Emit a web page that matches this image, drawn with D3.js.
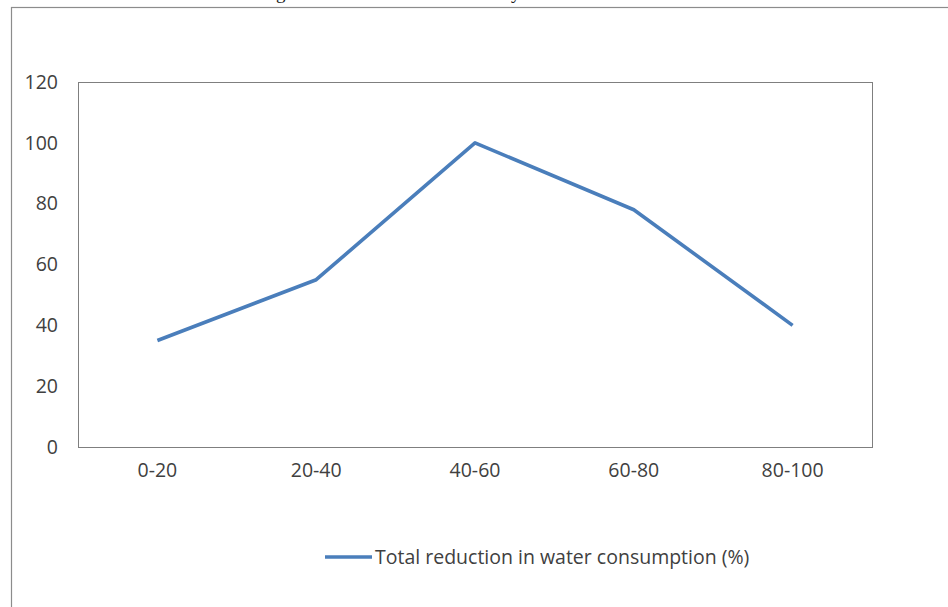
<!DOCTYPE html>
<html>
<head>
<meta charset="utf-8">
<script src="https://cdn.jsdelivr.net/npm/d3@7"></script>
<style>
  html, body { margin: 0; padding: 0; background: #ffffff; }
  svg { display: block; }
  text { font-family: "Open Sans", "Noto Sans", sans-serif; fill: #404040; }
</style>
</head>
<body>
<svg id="chart" width="948" height="607"></svg>
<script>
const categories = ["0-20", "20-40", "40-60", "60-80", "80-100"];
const values = [35, 55, 100, 78, 40];
const yTicks = [0, 20, 40, 60, 80, 100, 120];
const seriesName = "Total reduction in water consumption (%)";

const svg = d3.select("#chart");
const W = 948, H = 607;
const plot = { left: 78, right: 872, top: 82, bottom: 447 };
const color = "#4a7ebb";
const fs = "19.5px";

// outer chart frame (extends beyond page on right/bottom)
svg.append("rect")
  .attr("x", 11.5).attr("y", 7.5)
  .attr("width", W).attr("height", H)
  .attr("fill", "#fff").attr("stroke", "#8c8c8c").attr("stroke-width", 1.2);

// cut-off title descenders at top (as in the reference)
svg.append("text").attr("x", 276).attr("y", -1).style("font-size", "19px").style("font-family", "Liberation Serif, serif").style("fill", "#222").text("g");
svg.append("text").attr("x", 511).attr("y", -1).style("font-size", "19px").style("font-family", "Liberation Serif, serif").style("fill", "#222").text("y");

const x = d3.scaleBand().domain(categories).range([plot.left, plot.right]);
const y = d3.scaleLinear().domain([0, 120]).range([plot.bottom, plot.top]);

// plot area border
svg.append("rect")
  .attr("x", plot.left + 0.5).attr("y", plot.top + 0.5)
  .attr("width", plot.right - plot.left).attr("height", plot.bottom - plot.top)
  .attr("fill", "none").attr("stroke", "#7f7f7f").attr("stroke-width", 1);

// y axis labels
const yAxis = d3.axisLeft(y).tickValues(yTicks).tickSize(0).tickPadding(20);
const gy = svg.append("g").attr("transform", `translate(${plot.left},0)`).call(yAxis);
gy.select(".domain").remove();
gy.selectAll("text").style("font-size", fs).style("font-family", "Open Sans, sans-serif").attr("fill", "#404040");

// x axis labels
const xAxis = d3.axisBottom(x).tickSize(0).tickPadding(16);
const gx = svg.append("g").attr("transform", `translate(0,${plot.bottom})`).call(xAxis);
gx.select(".domain").remove();
gx.selectAll("text").style("font-size", fs).style("font-family", "Open Sans, sans-serif").attr("fill", "#404040");

// line
const line = d3.line()
  .x((d, i) => x(categories[i]) + x.bandwidth() / 2)
  .y(d => y(d));
svg.append("path")
  .datum(values)
  .attr("d", line)
  .attr("fill", "none")
  .attr("stroke", color)
  .attr("stroke-width", 3.6)
  .attr("stroke-linejoin", "round")
  .attr("stroke-linecap", "butt");

// legend
const lg = svg.append("g").attr("transform", "translate(325,557)");
lg.append("line").attr("x1", 0).attr("x2", 47).attr("y1", 0).attr("y2", 0)
  .attr("stroke", color).attr("stroke-width", 3.6);
lg.append("text").attr("x", 50).attr("y", 0).attr("dy", "0.35em")
  .style("font-size", fs).style("font-family", "Open Sans, sans-serif")
  .text(seriesName);
</script>
</body>
</html>
